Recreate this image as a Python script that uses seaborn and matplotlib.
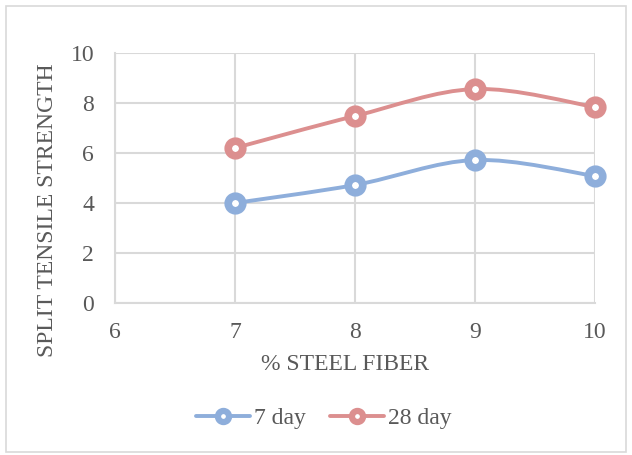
import numpy as np
import pandas as pd
import seaborn as sns
import matplotlib
matplotlib.use('Agg')
import matplotlib.pyplot as plt
from matplotlib.path import Path
from matplotlib.patches import PathPatch, Rectangle
from matplotlib.lines import Line2D

# data
fiber = [7, 8, 9, 10]
day7 = [4.0, 4.72, 5.72, 5.08]
day28 = [6.2, 7.48, 8.56, 7.84]
series_names = ['7 day', '28 day']
colors = ['#8eaedb', '#dc8f8f']

df = pd.DataFrame({'fiber': fiber * 2,
                   'strength': day7 + day28,
                   'age': [series_names[0]] * 4 + [series_names[1]] * 4})

sns.set_theme(style='white')
plt.rcParams['font.family'] = ['Liberation Serif', 'DejaVu Serif']
text_col = '#595959'
grid_col = '#d9d9d9'
fs = 17


def smooth_path(xs, ys):
    # excel-like smoothed line: bezier segments with catmull-rom control points
    xs = np.asarray(xs, float)
    ys = np.asarray(ys, float)
    n = len(xs)
    verts = [(xs[0], ys[0])]
    codes = [Path.MOVETO]
    for i in range(n - 1):
        x0, y0 = (xs[i - 1], ys[i - 1]) if i > 0 else (xs[i], ys[i])
        x3, y3 = (xs[i + 2], ys[i + 2]) if i + 2 < n else (xs[i + 1], ys[i + 1])
        c1 = (xs[i] + (xs[i + 1] - x0) / 6, ys[i] + (ys[i + 1] - y0) / 6)
        c2 = (xs[i + 1] - (x3 - xs[i]) / 6, ys[i + 1] - (y3 - ys[i]) / 6)
        verts += [c1, c2, (xs[i + 1], ys[i + 1])]
        codes += [Path.CURVE4] * 3
    return Path(verts, codes)


fig = plt.figure(figsize=(6.32, 4.55), dpi=100)
fig.patches.append(Rectangle((6 / 632, 3 / 455), 620 / 632, 446 / 455,
                             transform=fig.transFigure, fill=False,
                             edgecolor='#d9d9d9', linewidth=1.2))
ax = fig.add_axes([115 / 632, 1 - 303 / 455, 480 / 632, 250 / 455])

for name, vals, c in zip(series_names, [day7, day28], colors):
    ax.add_patch(PathPatch(smooth_path(fiber, vals), fill=False,
                           edgecolor=c, linewidth=2.8, zorder=3,
                           clip_on=False))

sns.lineplot(data=df, x='fiber', y='strength', hue='age', palette=colors,
             hue_order=series_names, marker='o', markersize=10.5,
             markeredgewidth=5.5, markerfacecolor='white', linestyle='none',
             legend=False, ax=ax, zorder=4, clip_on=False)
for ln, c in zip(ax.lines, colors):
    ln.set_markeredgecolor(c)

ax.set_xlim(6, 10)
ax.set_ylim(0, 10)
ax.set_xticks([6, 7, 8, 9, 10])
ax.set_yticks([0, 2, 4, 6, 8, 10])
ax.grid(True, color=grid_col, linewidth=1.5)
for s in ['top', 'right']:
    ax.spines[s].set_visible(False)
for s in ['left', 'bottom']:
    ax.spines[s].set_color(grid_col)
    ax.spines[s].set_linewidth(1.5)
ax.tick_params(axis='both', colors=text_col, labelsize=fs, length=0)
ax.tick_params(axis='x', pad=14)
ax.tick_params(axis='y', pad=15)

ax.set_xlabel('% STEEL FIBER', fontsize=fs, color=text_col)
ax.set_ylabel('SPLIT TENSILE STRENGTH', fontsize=fs, color=text_col)
ax.xaxis.set_label_coords(0.479, -0.204)
ax.yaxis.set_label_coords(-0.119, 0.372)

handles = [Line2D([], [], color=c, linewidth=2.8, marker='o', markersize=8,
                  markeredgewidth=4.5, markerfacecolor='white',
                  markeredgecolor=c) for c in colors]
leg = fig.legend(handles, series_names, loc='center', ncol=2,
                 bbox_to_anchor=(0.512, 0.081), frameon=False, fontsize=fs,
                 handlelength=2.3, columnspacing=1.0, handletextpad=0.17)
for t in leg.get_texts():
    t.set_color(text_col)

fig.savefig('out.png', dpi=100)
